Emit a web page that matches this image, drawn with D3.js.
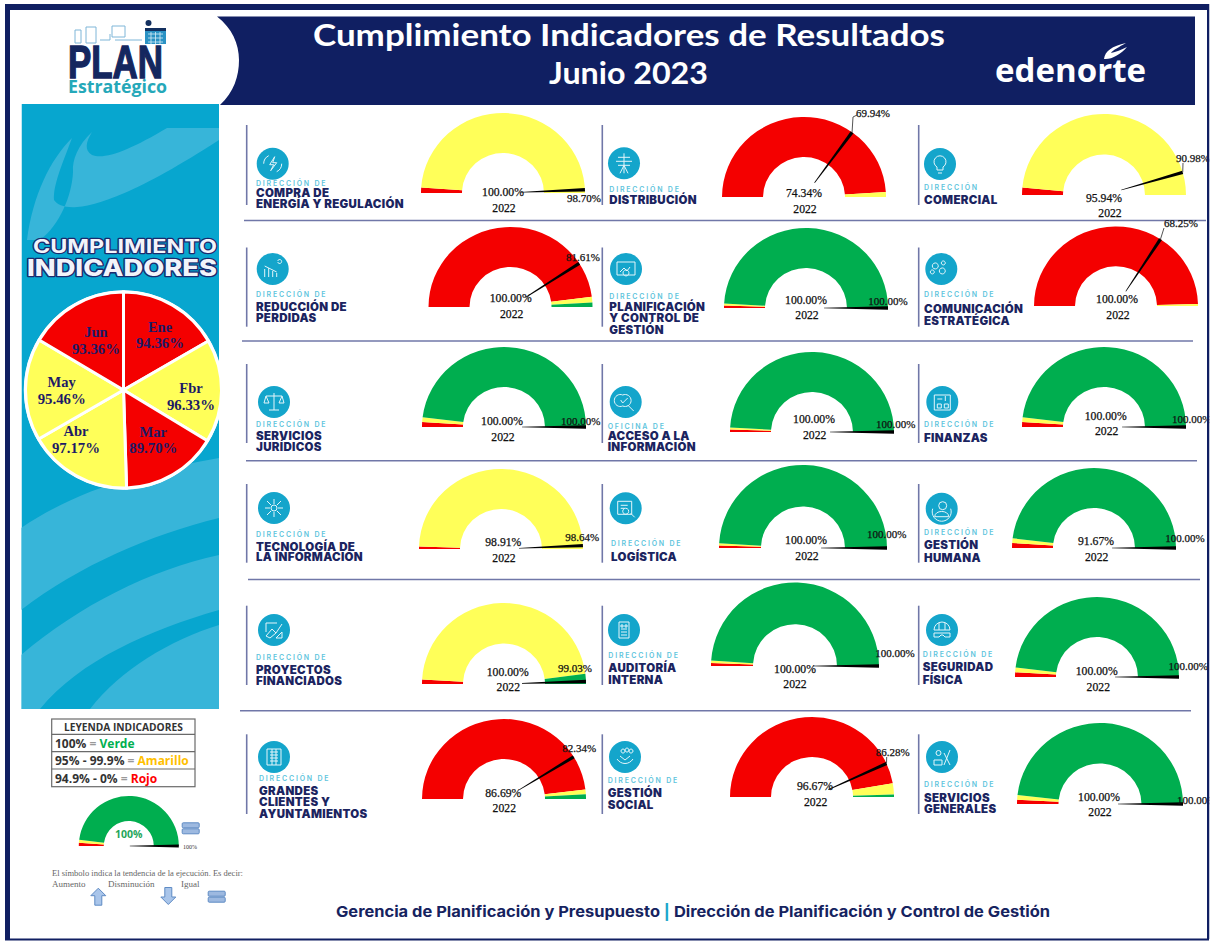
<!DOCTYPE html>
<html lang="es">
<head>
<meta charset="utf-8">
<title>Cumplimiento Indicadores de Resultados</title>
<script src="https://cdn.jsdelivr.net/npm/d3@7"></script>
<style>
  html, body { margin: 0; padding: 0; background: #fff; overflow: hidden; }
  svg { display: block; }
  .serif { font-family: "Liberation Serif", serif; }
  .sans { font-family: Inter, "Open Sans", sans-serif; }
</style>
</head>
<body>
<div id="chart"></div>
<script>
// Monthly compliance (pie)
const months = ["Ene", "Fbr", "Mar", "Abr", "May", "Jun"];
const monthValues = [94.36, 96.33, 89.70, 97.17, 95.46, 93.36];

// Gauges, one entry per area, reading order
const kickers = ["DIRECCIÓN DE", "DIRECCIÓN DE", "DIRECCIÓN",
    "DIRECCIÓN DE", "DIRECCIÓN DE", "DIRECCIÓN DE",
    "DIRECCIÓN DE", "OFICINA DE", "DIRECCIÓN DE",
    "DIRECCIÓN DE", "DIRECCIÓN DE", "DIRECCIÓN DE",
    "DIRECCIÓN DE", "DIRECCIÓN DE", "DIRECCIÓN DE",
    "DIRECCIÓN DE", "DIRECCIÓN DE", "DIRECCIÓN DE"];
const areaNames = [
    ["COMPRA DE", "ENERGÍA Y REGULACIÓN"], ["DISTRIBUCIÓN"], ["COMERCIAL"],
    ["REDUCCIÓN DE", "PÉRDIDAS"], ["PLANIFICACIÓN", "Y CONTROL DE", "GESTIÓN"], ["COMUNICACIÓN", "ESTRATÉGICA"],
    ["SERVICIOS", "JURÍDICOS"], ["ACCESO A LA", "INFORMACIÓN"], ["FINANZAS"],
    ["TECNOLOGÍA DE", "LA INFORMACIÓN"], ["LOGÍSTICA"], ["GESTIÓN", "HUMANA"],
    ["PROYECTOS", "FINANCIADOS"], ["AUDITORÍA", "INTERNA"], ["SEGURIDAD", "FÍSICA"],
    ["GRANDES", "CLIENTES Y", "AYUNTAMIENTOS"], ["GESTIÓN", "SOCIAL"], ["SERVICIOS", "GENERALES"]];
const redBand = [2.2, 98, 3, 95.9, 1, 99.2, 2, 1, 2, 1, 1, 2, 1.8, 1.1, 1.9, 96.2, 94.5, 1.7];
const yellowBand = [97.8, 2, 97, 2.3, 0.8, 0.8, 1.9, 0.8, 1.9, 99, 0.8, 1.9, 94.2, 1, 1.9, 1.9, 4.5, 1.8];
const greenBand = [0, 0, 0, 1.8, 98.2, 0, 96.1, 98.2, 96.1, 0, 98.2, 96.1, 4, 97.9, 96.2, 1.9, 1, 96.5];
const currentValues = [98.70, 69.94, 90.98, 81.61, 100, 68.25, 100, 100, 100, 98.64, 100, 100, 99.03, 100, 100, 82.34, 86.28, 100];
const priorValues = [100, 74.34, 95.94, 100, 100, 100, 100, 100, 100, 98.91, 100, 91.67, 100, 100, 100, 86.69, 96.67, 100];
const priorYear = "2022";

// Sample gauge in the legend box
const sampleBands = [2, 2, 96];
const sampleValue = 100;

// Text
const titleLines = ["Cumplimiento Indicadores de Resultados", "Junio 2023"];

const width = 1211;
const height = 941;

const colorRed = "#f40000", colorYellow = "#ffff59", colorGreen = "#00ae4f";
const navy = "#101f62";
const bandColor = d3.scaleOrdinal().domain(["red", "yellow", "green"]).range([colorRed, colorYellow, colorGreen]);

// Where each gauge sits: centre, radius, dial height (the source is a bit squashed), label centres
const gaugeSlots = [
    { cx: 503, cy: 193, r: 82, h: 80, prior: [503, 191.7], year: [504, 208], tip: [584, 198] },
    { cx: 804, cy: 197, r: 82, h: 80, prior: [804, 192.7], year: [805, 209], tip: [873, 112.7], leader: [[853, 117], [857, 115]] },
    { cx: 1104, cy: 195, r: 82, h: 81, prior: [1104, 197.7], year: [1110, 213], tip: [1193, 158], leader: [[1183, 163]] },
    { cx: 510.5, cy: 307, r: 82, h: 80, prior: [510.7, 298], year: [511.7, 314], tip: [583, 257] },
    { cx: 806, cy: 308, r: 82, h: 80, prior: [806, 300], year: [807, 315], tip: [888, 301] },
    { cx: 1116, cy: 306, r: 82, h: 79.5, prior: [1117, 299], year: [1118, 315], tip: [1181, 222.7], leader: [[1164, 228]] },
    { cx: 504, cy: 427, r: 82, h: 80, prior: [502, 420.7], year: [503, 436.7], tip: [580.7, 421] },
    { cx: 812, cy: 432, r: 82, h: 80, prior: [814, 419], year: [814.7, 434.7], tip: [895.7, 424.3] },
    { cx: 1104, cy: 427, r: 82, h: 80, prior: [1105.7, 415.7], year: [1106.7, 430.7], tip: [1191.7, 419] },
    { cx: 501, cy: 549, r: 82, h: 80, prior: [503.3, 541.7], year: [504, 557.7], tip: [582.3, 537.3] },
    { cx: 803, cy: 548, r: 84, h: 83, prior: [806, 540], year: [807, 555.7], tip: [886.7, 534.3] },
    { cx: 1094, cy: 548, r: 82, h: 80, prior: [1096, 541], year: [1096.7, 556.7], tip: [1185, 538.3] },
    { cx: 504, cy: 684, r: 82, h: 81, prior: [507.7, 671.7], year: [508.3, 687.3], tip: [575, 667.7] },
    { cx: 795, cy: 666, r: 84, h: 83.5, prior: [795, 669], year: [795, 684.3], tip: [895, 653.3] },
    { cx: 1097, cy: 677, r: 82, h: 80, prior: [1096.7, 670.7], year: [1098.3, 686.7], tip: [1188.3, 665.7] },
    { cx: 504, cy: 799, r: 82, h: 80, prior: [503.3, 793.3], year: [504.3, 808.3], tip: [579.3, 747.7] },
    { cx: 812, cy: 797, r: 82, h: 80, prior: [815, 785.7], year: [815.7, 802.3], tip: [892.7, 752.3], leader: [[886.7, 757]] },
    { cx: 1100, cy: 804, r: 83, h: 81, prior: [1099, 796.7], year: [1100, 812.3], tip: [1196.7, 800] }
];

// Where each area label sits: text x, icon centre, kicker baseline, name baselines
const labelSlots = [
    { x: 256, icon: [272.7, 163.7], kicker: 186.3, lines: [197.3, 208.3] },
    { x: 609.3, icon: [624, 163.3], kicker: 192.3, lines: [203.7] },
    { x: 924, icon: [940, 164], kicker: 190, lines: [204] },
    { x: 256, icon: [272.7, 269], kicker: 297, lines: [310.7, 321.7] },
    { x: 609.3, icon: [626, 269], kicker: 299, lines: [310.7, 322.3, 334.3] },
    { x: 924, icon: [941.3, 269], kicker: 297.3, lines: [313.3, 325.3] },
    { x: 256, icon: [274, 402], kicker: 426.7, lines: [440, 451] },
    { x: 607.7, icon: [625.7, 402], kicker: 429.3, lines: [440, 451] },
    { x: 924, icon: [942.3, 402], kicker: 427.3, lines: [441.7] },
    { x: 256, icon: [274, 508], kicker: 536.7, lines: [550.7, 561.3] },
    { x: 611, icon: [625.7, 508.3], kicker: 546, lines: [560.7] },
    { x: 924, icon: [941.7, 508.7], kicker: 535, lines: [549.3, 561.7] },
    { x: 256, icon: [274, 630], kicker: 660.3, lines: [674, 685] },
    { x: 608.3, icon: [624, 630], kicker: 657.7, lines: [671.7, 684] },
    { x: 922.7, icon: [942, 630], kicker: 656.7, lines: [671, 683.7] },
    { x: 259, icon: [274, 757], kicker: 781, lines: [795, 806.3, 817.7] },
    { x: 607.7, icon: [625, 757], kicker: 783.3, lines: [796.7, 809] },
    { x: 924, icon: [942, 757], kicker: 787, lines: [801.7, 813] }
];

// Rough white glyphs for the round icons, drawn in a -10..10 box
const iconGlyphs = [
    "M2-7L-3 1H1L-2 7L4-1H0ZM-9 0A9 9 0 0 1-4-8M9 0A9 9 0 0 1 4 8",
    "M0-10V10M-6-6H6M-8-2H8M-6 2H6M-4 10L0 2L4 10",
    "M-3 3A6 6 0 1 1 3 3V6H-3ZM-2 9H2",
    "M-8 8V0M-4 8V-1M0 8V2M4 8V4M-8-3L4 3M5-8A2 2 0 1 1 5-7",
    "M-9-7H9V6H-9ZM-6 3L-2-1L1 2L4-2M3 4A3 3 0 1 1 3 3.9",
    "M-3-3A3 3 0 1 1-3-3.1M4 2A3 3 0 1 1 4 1.9M-7 3A2 2 0 1 1-7 2.9M4-6A2 2 0 1 1 4-6.1",
    "M0-9V8M-5 8H5M-8-6H8M-8-6L-10 1H-5L-8-6M8-6L5 1H10L8-6",
    "M-3-7A6 6 0 1 1-3 4A6 6 0 1 1-3-7M-5-2L-3 1L2-4M2 3L8 9",
    "M-8-7H8V8H-8ZM-5-3H0M-5 2H-1V6H-5ZM2 2H6V6H2ZM3-6V-1",
    "M-3 0A3 3 0 1 1 3 0A3 3 0 1 1-3 0M0-4V-9M0 4V9M-4 0H-9M4 0H9M-3-3L-7-7M3 3L7 7M3-3L7-7M-3 3L-7 7",
    "M-8-7H6V6H-8ZM-5-3H2M-5 0H-1M3 3A3 3 0 1 1 3 2.9M5 5L9 9",
    "M-3-3A4 4 0 1 1 5-3A4 4 0 1 1-3-3ZM-7 8C-7 1 7 1 7 8ZM-9 0A9.5 9.5 0 1 0 9 0",
    "M-8 6L-2-1L2 3L-4 8ZM2 3L8-6M-8-7H3M-8-7V2M2 8L8 2V8Z",
    "M-5-8H5V8H-5ZM-3-5H-1V-3H-3ZM1-5H3V-3H1ZM-3-1H3M-3 2H3M-3 5H3",
    "M-8 0A8 8 0 0 1 8 0ZM-3-7V0M3-7V0M-8 3H8V7H3L1 5H-1L-3 7H-8Z",
    "M-7-8H7V8H-7ZM-4-5H4M-4-2H4M-4 1H4M-4 4H4M-2-8V8M2-8V8",
    "M-4-6A2 2 0 1 1-4-5.9M0-7A2 2 0 1 1 0-6.9M4-6A2 2 0 1 1 4-5.9M-8 2C-4 8 4 8 8 2M-5-1L0 3L5-1",
    "M-6-4A2.5 2.5 0 1 1-1-4A2.5 2.5 0 1 1-6-4M-8 8V3H0V8ZM2 8L8-7M8 8L2-4"
];

const svg = d3.select("#chart")
    .append("svg")
    .attr("width", width)
    .attr("height", height)
    .attr("viewBox", `0 0 ${width} ${height}`);

svg.append("rect").attr("width", width).attr("height", height).attr("fill", "#fff");

// ---- Side panel with the swoosh background
const defs = svg.append("defs");
defs.append("clipPath").attr("id", "panel-clip")
    .append("rect").attr("x", 21.5).attr("y", 104).attr("width", 197.5).attr("height", 605);

const panel = svg.append("g").attr("clip-path", "url(#panel-clip)");
panel.append("rect").attr("x", 21.5).attr("y", 104).attr("width", 197.5).attr("height", 605).attr("fill", "#07a6cf");
[
    "M27 240C33 195 50 160 72 138C62 165 53 185 54 200C64 214 105 214 219 140V128H167C130 150 105 160 92 155C84 150 86 142 92 132C78 145 72 160 73 172C72 195 60 225 40 240Z",
    "M21 528C80 488 150 470 219 458V518C150 535 80 565 21 610Z",
    "M21 655C80 605 150 570 219 555V610C150 630 80 660 40 709H21Z",
    "M90 709C120 670 170 640 219 625V709Z"
].forEach(d => panel.append("path").attr("d", d).attr("fill", "#37b5d9"));

// ---- Panel heading
const heading = svg.append("g").attr("class", "sans")
    .attr("text-anchor", "start")
    .attr("fill", "#f2f4fa").attr("stroke", "#1b2a6e").attr("stroke-linejoin", "round")
    .style("paint-order", "stroke");
heading.append("text").text("CUMPLIMIENTO")
    .attr("x", 33).attr("y", 253).attr("font-size", 19).attr("font-weight", 700).attr("stroke-width", 2.4)
    .attr("textLength", 184).attr("lengthAdjust", "spacingAndGlyphs");
heading.append("text").text("INDICADORES")
    .attr("x", 27).attr("y", 276).attr("font-size", 23.5).attr("font-weight", 800).attr("stroke-width", 2.6)
    .attr("textLength", 190).attr("lengthAdjust", "spacingAndGlyphs");

// ---- Monthly pie
const pieCentre = [123.5, 390];
const pieRadius = 98;
const monthLabelSlots = [[160, 331.7], [191, 393.3], [153.3, 436.7], [76, 436], [61.7, 387.3], [96, 337.3]];

const pie = d3.pie().sort(null).value(d => d);
const pieArc = d3.arc().innerRadius(0).outerRadius(pieRadius);
const monthColor = v => v >= 100 ? colorGreen : v >= 95 ? colorYellow : colorRed;

const pieGroup = svg.append("g").attr("transform", `translate(${pieCentre})`);
pieGroup.selectAll("path")
    .data(pie(monthValues))
    .enter()
    .append("path")
    .attr("d", pieArc)
    .attr("fill", d => monthColor(d.data))
    .attr("stroke", "white")
    .style("stroke-width", "3px");
pieGroup.append("circle").attr("r", pieRadius + 0.5).attr("fill", "none").attr("stroke", "white").attr("stroke-width", 2.5);

const monthLabels = svg.append("g").attr("class", "serif")
    .attr("text-anchor", "middle").attr("font-weight", 700).attr("fill", "#1d1a66");
months.forEach((m, i) => {
    const [x, y] = monthLabelSlots[i];
    monthLabels.append("text").text(m).attr("x", x).attr("y", y).attr("font-size", 14.5);
    monthLabels.append("text").text(monthValues[i].toFixed(2) + "%").attr("x", x).attr("y", y + 16.5).attr("font-size", 14.8);
});

// ---- Row and column rules
const ruleColor = "#7077a8";
const hRules = [[244, 1206, 220.5], [242, 1193, 341], [246, 1197, 460.7], [248, 1200, 579.5], [240, 1191, 710.7]];
const vRuleX = [246.7, 602.3, 918.7];
const vRuleY = [[125, 205], [247.5, 326.7], [364, 443], [484, 562.7], [605.7, 685], [734.3, 814]];
const rules = svg.append("g").attr("stroke", ruleColor);
rules.selectAll(".h").data(hRules).enter().append("line").attr("class", "h")
    .attr("x1", d => d[0]).attr("x2", d => d[1]).attr("y1", d => d[2]).attr("y2", d => d[2]).attr("stroke-width", 1.4);
vRuleY.forEach(ys => {
    rules.selectAll(null).data(vRuleX).enter().append("line")
        .attr("x1", d => d).attr("x2", d => d).attr("y1", ys[0]).attr("y2", ys[1]).attr("stroke-width", 1.6);
});

// ---- Gauges
const dialAngle = d3.scaleLinear().domain([0, 100]).range([-90, 90]);
const gaugePie = d3.pie().sort(null).value(d => d.value).startAngle(-Math.PI / 2).endAngle(Math.PI / 2);

function drawNeedle(g, value, r, hub, headWidth) {
    // tapered needle, thin at the hub and thick at the dial edge
    const shape = [[-0.35, -hub], [0.35, -hub], [headWidth, -r], [-headWidth, -r]];
    g.append("path")
        .attr("d", d3.line()(shape) + "Z")
        .attr("fill", "#000")
        .attr("transform", `rotate(${dialAngle(value)})`);
}

function drawDial(parent, bands, r) {
    const arc = d3.arc().innerRadius(r * 0.5).outerRadius(r);
    parent.selectAll("path.band")
        .data(gaugePie(bands))
        .enter()
        .append("path")
        .attr("class", "band")
        .attr("d", arc)
        .attr("fill", d => bandColor(d.data.key));
}

const gaugeLayer = svg.append("g");
currentValues.forEach((value, i) => {
    const slot = gaugeSlots[i];
    const bands = [
        { key: "red", value: redBand[i] },
        { key: "yellow", value: yellowBand[i] },
        { key: "green", value: greenBand[i] }
    ];
    const g = gaugeLayer.append("g")
        .attr("transform", `translate(${slot.cx},${slot.cy}) scale(1,${slot.h / slot.r})`);
    drawDial(g, bands, slot.r);
    drawNeedle(g, value, slot.r, 18, 1.7);

    // Small grey leader from the needle tip up to its label
    if (slot.leader) {
        const a = dialAngle(value) * Math.PI / 180;
        const start = [slot.cx + slot.r * Math.sin(a), slot.cy - slot.h * Math.cos(a)];
        gaugeLayer.append("path")
            .attr("d", d3.line()([start, ...slot.leader]))
            .attr("fill", "none").attr("stroke", "#555").attr("stroke-width", 1);
    }

    const text = gaugeLayer.append("g").attr("class", "serif")
        .attr("text-anchor", "middle").attr("font-size", 11.7).attr("fill", "#111")
        .attr("stroke", "#111").attr("stroke-width", 0.25);
    text.append("text").text(priorValues[i].toFixed(2) + "%").attr("x", slot.prior[0]).attr("y", slot.prior[1]).attr("dy", "0.35em");
    text.append("text").text(priorYear).attr("x", slot.year[0]).attr("y", slot.year[1]).attr("dy", "0.35em");
    text.append("text").text(value.toFixed(2) + "%").attr("x", slot.tip[0]).attr("y", slot.tip[1]).attr("dy", "0.35em").attr("font-size", 11);
});

// ---- Area labels with their round icons
const labelLayer = svg.append("g").attr("class", "sans");
areaNames.forEach((lines, i) => {
    const slot = labelSlots[i];
    const icon = labelLayer.append("g").attr("transform", `translate(${slot.icon})`);
    icon.append("circle").attr("r", 16).attr("fill", "#14a5cb");
    icon.append("path").attr("d", iconGlyphs[i]).attr("fill", "none").attr("stroke", "#e4f5fa").attr("stroke-width", 1);

    labelLayer.append("text").text(kickers[i])
        .attr("x", slot.x).attr("y", slot.kicker)
        .attr("font-size", 7).attr("font-weight", 600)
        .attr("letter-spacing", 1.8).attr("fill", "#5fc5dd");
    lines.forEach((line, j) => {
        labelLayer.append("text").text(line)
            .attr("x", slot.x).attr("y", slot.lines[j])
            .attr("font-size", 11.5).attr("font-weight", 900)
            .attr("letter-spacing", 0.3)
            .attr("fill", "#1b2460");
    });
});

// ---- Legend box
const legendX = 51.7, legendW = 143.3;
const legendRowY = [719, 734.3, 751.7, 769, 786.7];
const legend = svg.append("g").attr("font-family", "'Open Sans', sans-serif").attr("font-weight", 700);
legend.append("rect").attr("x", legendX).attr("y", legendRowY[0])
    .attr("width", legendW).attr("height", legendRowY[4] - legendRowY[0])
    .attr("fill", "#fff").attr("stroke", "#6a6a6a").attr("stroke-width", 1.2);
legendRowY.slice(1, 4).forEach(y => legend.append("line")
    .attr("x1", legendX).attr("x2", legendX + legendW).attr("y1", y).attr("y2", y)
    .attr("stroke", "#6a6a6a").attr("stroke-width", 1.2));
legend.append("text").text("LEYENDA INDICADORES")
    .attr("x", legendX + legendW / 2).attr("y", 730.5).attr("text-anchor", "middle")
    .attr("font-size", 10.2).attr("fill", "#333");
const legendRows = [
    { range: "100%", name: "Verde", color: "#00b050", y: 748 },
    { range: "95% - 99.9%", name: "Amarillo", color: "#ffc000", y: 765.3 },
    { range: "94.9% - 0%", name: "Rojo", color: "#ff0000", y: 782.5 }
];
legendRows.forEach(row => {
    const t = legend.append("text").attr("x", 55).attr("y", row.y).attr("font-size", 12).attr("fill", "#333");
    t.append("tspan").text(row.range);
    t.append("tspan").text(" = ").attr("fill", "#999");
    t.append("tspan").text(row.name).attr("fill", row.color);
});

// Sample gauge
const sample = svg.append("g").attr("transform", "translate(128.8,846)");
drawDial(sample, [
    { key: "red", value: sampleBands[0] },
    { key: "yellow", value: sampleBands[1] },
    { key: "green", value: sampleBands[2] }
], 50);
drawNeedle(sample, sampleValue, 50, 1, 1.4);
sample.append("text").text(sampleValue + "%")
    .attr("y", -8).attr("text-anchor", "middle")
    .attr("font-family", "'Open Sans', sans-serif").attr("font-weight", 700)
    .attr("font-size", 10.5).attr("fill", "#1fa65a");
svg.append("text").attr("class", "serif").text(sampleValue + "%")
    .attr("x", 190).attr("y", 849).attr("text-anchor", "middle").attr("font-size", 6).attr("fill", "#333");

function equalSign(x, y) {
    const g = svg.append("g").attr("transform", `translate(${x},${y})`)
        .attr("fill", "#9db9e0").attr("stroke", "#5f8bc4").attr("stroke-width", 1);
    g.append("rect").attr("x", -8.5).attr("y", -5.5).attr("width", 17).attr("height", 5).attr("rx", 1);
    g.append("rect").attr("x", -8.5).attr("y", 0.5).attr("width", 17).attr("height", 5).attr("rx", 1);
}
function blockArrow(x, y, dir) {
    const s = dir;
    const shape = [[0, -8.5 * s], [7.5, -1 * s], [3.5, -1 * s], [3.5, 8.5 * s], [-3.5, 8.5 * s], [-3.5, -1 * s], [-7.5, -1 * s]];
    svg.append("path")
        .attr("transform", `translate(${x},${y})`)
        .attr("d", d3.line()(shape) + "Z")
        .attr("fill", "#a9c5ea").attr("stroke", "#5f8bc4").attr("stroke-width", 1);
}
equalSign(190.7, 828.3);
blockArrow(98.3, 896.7, 1);
blockArrow(168.3, 896, -1);
equalSign(216.7, 896.7);

const note = svg.append("g").attr("class", "serif").attr("font-size", 9).attr("fill", "#666");
note.append("text").text("El símbolo indica la tendencia de la ejecución. Es decir:")
    .attr("x", 52).attr("y", 876).attr("font-size", 8.2).attr("textLength", 191).attr("lengthAdjust", "spacingAndGlyphs");
note.append("text").text("Aumento").attr("x", 52).attr("y", 886.7);
note.append("text").text("Disminución").attr("x", 108).attr("y", 886.7);
note.append("text").text("Igual").attr("x", 181).attr("y", 886.7);

// ---- Header band
svg.append("path")
    .attr("d", "M217 16.5H1195V105H220C234 92 239 76 239 60C239 44 232 28 217 16.5Z")
    .attr("fill", navy);

const title = svg.append("g").attr("fill", "#fff").attr("text-anchor", "middle")
    .attr("font-family", "Lato, sans-serif").attr("font-weight", 700);
title.append("text").text(titleLines[0]).attr("x", 629).attr("y", 46).attr("font-size", 30.5)
    .attr("textLength", 632).attr("lengthAdjust", "spacingAndGlyphs");
title.append("text").text(titleLines[1]).attr("x", 628.5).attr("y", 84).attr("font-size", 30.5)
    .attr("textLength", 159).attr("lengthAdjust", "spacingAndGlyphs");

// edenorte mark
svg.append("text").text("edenorte")
    .attr("x", 995).attr("y", 81.5).attr("fill", "#fff")
    .attr("font-family", "'Open Sans', sans-serif").attr("font-weight", 700).attr("font-size", 32)
    .attr("textLength", 151).attr("lengthAdjust", "spacingAndGlyphs");
svg.append("path")
    .attr("d", "M1104 59C1105 51 1112 46 1126 43C1119 47 1113 50 1111 53C1116 52 1121 50 1127 47C1121 54 1111 60 1104 59Z")
    .attr("fill", "#fff");

// PLAN Estrategico logo
const logo = svg.append("g");
logo.append("path")
    .attr("d", "M75 43V30H81V43ZM86 27H96V43H86ZM100 40H110V34M115 40H142M112 37V26H125V37Z")
    .attr("fill", "none").attr("stroke", "#7fb6d8").attr("stroke-width", 1);
logo.append("rect").attr("x", 145).attr("y", 28).attr("width", 21).attr("height", 16).attr("fill", "#2a92c4");
logo.append("path").attr("d", "M148 34H163M148 38H163M148 42H163M151 32V44M155.5 32V44M160 32V44")
    .attr("stroke", "#d6ecf6").attr("stroke-width", 0.8);
logo.append("rect").attr("x", 145).attr("y", 28).attr("width", 21).attr("height", 3).attr("fill", "#13305f");
logo.append("circle").attr("cx", 148.5).attr("cy", 23).attr("r", 3).attr("fill", "#13305f");
logo.append("text").text("PLAN")
    .attr("x", 68).attr("y", 78).attr("fill", "#14275f").attr("stroke", "#14275f").attr("stroke-width", 1.4)
    .attr("font-family", "'Liberation Sans Narrow', 'Liberation Sans', sans-serif").attr("font-weight", 700).attr("font-size", 46)
    .attr("textLength", 95).attr("lengthAdjust", "spacingAndGlyphs");
logo.append("text").text("Estratégico")
    .attr("x", 68).attr("y", 92.7).attr("fill", "#25a8b9")
    .attr("font-family", "'Open Sans', sans-serif").attr("font-weight", 700).attr("font-size", 17)
    .attr("textLength", 99).attr("lengthAdjust", "spacingAndGlyphs");

// ---- Footer
const footer = svg.append("text")
    .attr("x", 336).attr("y", 917)
    .attr("font-family", "Inter, sans-serif").attr("font-weight", 700).attr("font-size", 15)
    .attr("fill", "#16235f")
    .attr("textLength", 714).attr("lengthAdjust", "spacingAndGlyphs");
footer.append("tspan").text("Gerencia de Planificación y Presupuesto ");
footer.append("tspan").text("|").attr("fill", "#1ba6cb");
footer.append("tspan").text(" Dirección de Planificación y Control de Gestión");

// ---- Page frame, drawn last so it cuts off anything that runs past it
const frame = svg.append("g").attr("fill", navy);
frame.append("rect").attr("x", 0).attr("y", 0).attr("width", width).attr("height", 4).attr("fill", "#fff");
frame.append("rect").attr("x", 5).attr("y", 4).attr("width", 1204).attr("height", 6);
frame.append("rect").attr("x", 5).attr("y", 4).attr("width", 5).attr("height", 935);
frame.append("rect").attr("x", 1207).attr("y", 4).attr("width", 2.5).attr("height", 935);
frame.append("rect").attr("x", 5).attr("y", 938.5).attr("width", 1204).attr("height", 2);
frame.append("rect").attr("x", 1209.5).attr("y", 0).attr("width", 2).attr("height", height).attr("fill", "#fff");
</script>
</body>
</html>
